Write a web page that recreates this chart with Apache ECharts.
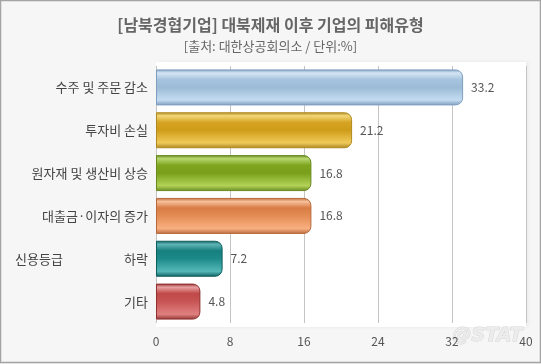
<!DOCTYPE html>
<html><head><meta charset="utf-8">
<script src="https://cdn.jsdelivr.net/npm/echarts@6/dist/echarts.min.js"></script>
<style>html,body{margin:0;padding:0;background:#f6f6f6}#c{width:541px;height:364px}</style>
</head><body><div id="c"></div>
<script>
const categories = ['수주 및 주문 감소','투자비 손실','원자재 및 생산비 상승','대출금·이자의 증가','신용등급                     하락','기타'];
const values = [33.2, 21.2, 16.8, 16.8, 7.2, 4.8];
const xTicks = [0, 8, 16, 24, 32, 40];
const palettes = [
  ['#7f9fbf','#d5e6f5','#a7c4de','#9cbbd7','#c4dcf1','#7d9cbd'],
  ['#b08a20','#f3d777','#d6a424','#cf9c18','#f0cb5a','#a88220'],
  ['#6a8a20','#b8d870','#7fa51f','#79a01a','#b2d258','#6a8a20'],
  ['#b8683a','#f8c09a','#d87c45','#e48c55','#f8b080','#b86a40'],
  ['#0e5e5e','#5fb5b5','#177f7f','#1d8a8a','#55b8b8','#0e6060'],
  ['#923030','#e8a0a0','#c04848','#c85555','#e08080','#903535']
];
function grad(p){
  return new echarts.graphic.LinearGradient(0,0,0,1,[
    {offset:0,color:p[0]},{offset:0.1,color:p[1]},{offset:0.28,color:p[2]},
    {offset:0.5,color:p[3]},{offset:0.85,color:p[4]},{offset:1,color:p[5]}]);
}
const chart = echarts.init(document.getElementById('c'));
const FONT = '"Noto Sans CJK KR", sans-serif';
chart.setOption({
  backgroundColor:'#f6f6f6',
  animation:false,
  title:[
    {text:'[남북경협기업] 대북제재 이후 기업의 피해유형', left:'center', top:12,
     textStyle:{fontFamily:FONT,fontSize:16,fontWeight:'bold',color:'#666'}},
    {text:'[출처: 대한상공회의소 / 단위:%]', left:'center', top:35,
     textStyle:{fontFamily:FONT,fontSize:13,fontWeight:'normal',color:'#666'}}
  ],
  graphic:[
    {type:'rect',z:-10,shape:{x:0.5,y:0.5,width:540,height:362},style:{fill:'#f6f6f6',stroke:'#a4a4a4',lineWidth:1.5}},
    {type:'rect',z:-5,shape:{x:156,y:62,width:370,height:265},style:{fill:'#ffffff',shadowColor:'rgba(0,0,0,0.06)',shadowBlur:4,shadowOffsetX:2}},
    {type:'text',z:0,left:452,top:326,style:{text:'@STAT',fill:'#ececec',stroke:'#d6d6d6',lineWidth:1,font:'italic bold 19px "DejaVu Sans", sans-serif'}}
  ],
  grid:{left:156,right:15,top:66,bottom:41,containLabel:false},
  xAxis:{type:'value',min:xTicks[0],max:xTicks[xTicks.length-1],interval:8,
    axisLine:{show:false},axisTick:{show:false},
    splitLine:{show:true,lineStyle:{color:'#c4c4c4',width:1}},
    axisLabel:{margin:12,color:'#555',fontFamily:FONT,fontSize:12}},
  yAxis:{type:'category',data:categories,inverse:true,
    axisLine:{show:false},axisTick:{show:false},
    axisLabel:{margin:8,color:'#444',fontFamily:FONT,fontSize:13}},
  series:[{type:'bar',barWidth:36,
    data:values.map((v,i)=>({value:v,itemStyle:{color:grad(palettes[i]),borderColor:palettes[i][0],borderWidth:1,borderRadius:[0,7,7,0]}})),
    label:{show:true,position:'right',distance:8,color:'#555',fontFamily:FONT,fontSize:12}
  }]
});
</script></body></html>
